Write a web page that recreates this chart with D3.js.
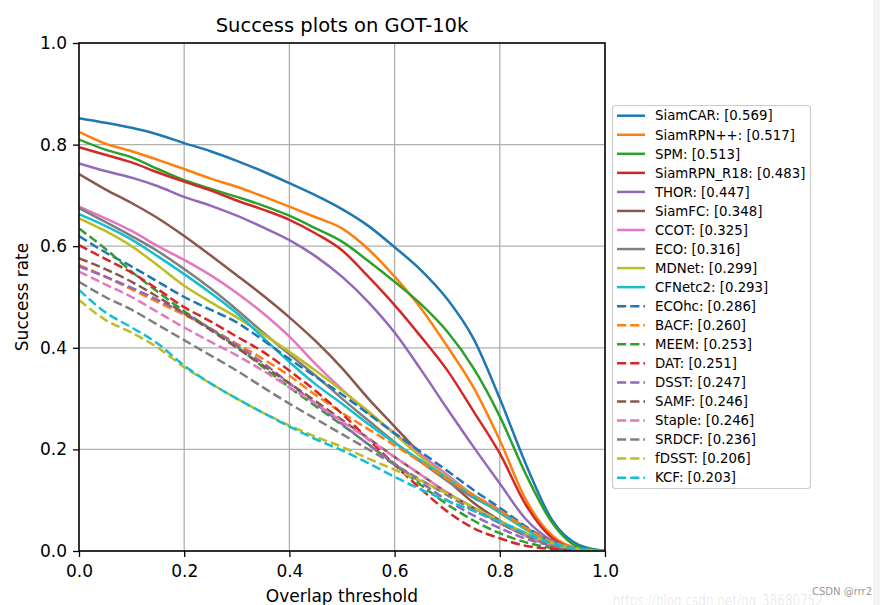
<!DOCTYPE html>
<html>
<head>
<meta charset="utf-8">
<script src="https://cdn.jsdelivr.net/npm/d3@7"></script>
<style>
  html, body { margin: 0; padding: 0; background: #fff; }
  svg { display: block; }
  text { font-family: "DejaVu Sans", sans-serif; }
</style>
</head>
<body>
<svg id="chart" width="880" height="605"></svg>
<script>
// ---- data ----
const thresholds = [0, 0.05, 0.1, 0.15, 0.2, 0.25, 0.3, 0.35, 0.4, 0.45, 0.5,
                    0.55, 0.6, 0.65, 0.7, 0.75, 0.8, 0.85, 0.9, 0.95, 1.0];
const trackerNames = ["SiamCAR", "SiamRPN++", "SPM", "SiamRPN_R18", "THOR", "SiamFC", "CCOT", "ECO", "MDNet", "CFNetc2",
                      "ECOhc", "BACF", "MEEM", "DAT", "DSST", "SAMF", "Staple", "SRDCF", "fDSST", "KCF"];
const aucScores = ["0.569", "0.517", "0.513", "0.483", "0.447", "0.348", "0.325", "0.316", "0.299", "0.293",
                   "0.286", "0.260", "0.253", "0.251", "0.247", "0.246", "0.246", "0.236", "0.206", "0.203"];
const lineStyles = ["solid","solid","solid","solid","solid","solid","solid","solid","solid","solid",
                    "dashed","dashed","dashed","dashed","dashed","dashed","dashed","dashed","dashed","dashed"];
const palette = ["#1f77b4", "#ff7f0e", "#2ca02c", "#d62728", "#9467bd", "#8c564b", "#e377c2", "#7f7f7f", "#bcbd22", "#17becf"];

const siamCAR    = [0.852,0.843,0.833,0.820,0.803,0.787,0.768,0.747,0.724,0.700,0.673,0.640,0.598,0.553,0.496,0.418,0.300,0.170,0.060,0.012,0];
const siamRPNpp  = [0.825,0.802,0.787,0.770,0.752,0.733,0.717,0.698,0.678,0.657,0.635,0.594,0.540,0.478,0.403,0.322,0.218,0.100,0.030,0.005,0];
const spm        = [0.810,0.790,0.775,0.752,0.730,0.713,0.697,0.680,0.660,0.635,0.609,0.571,0.530,0.486,0.432,0.360,0.265,0.150,0.055,0.008,0];
const siamRPNR18 = [0.795,0.780,0.765,0.745,0.727,0.710,0.690,0.672,0.652,0.625,0.592,0.540,0.484,0.422,0.356,0.275,0.192,0.090,0.025,0.003,0];
const thor       = [0.763,0.748,0.735,0.718,0.697,0.680,0.660,0.637,0.612,0.580,0.540,0.490,0.430,0.357,0.280,0.205,0.133,0.062,0.020,0.003,0];
const siamFC     = [0.742,0.712,0.685,0.655,0.620,0.582,0.543,0.503,0.460,0.413,0.360,0.300,0.245,0.190,0.140,0.095,0.060,0.030,0.010,0.002,0];
const ccot       = [0.678,0.655,0.630,0.600,0.573,0.543,0.508,0.468,0.422,0.368,0.318,0.272,0.232,0.190,0.150,0.110,0.080,0.045,0.018,0.004,0];
const eco        = [0.675,0.648,0.620,0.590,0.555,0.517,0.475,0.430,0.387,0.345,0.300,0.257,0.214,0.175,0.138,0.105,0.078,0.045,0.018,0.004,0];
const mdnet      = [0.655,0.630,0.600,0.562,0.522,0.490,0.460,0.427,0.392,0.355,0.316,0.275,0.230,0.185,0.145,0.110,0.075,0.042,0.016,0.003,0];
const cfnetc2    = [0.663,0.640,0.613,0.580,0.545,0.508,0.468,0.420,0.372,0.328,0.290,0.250,0.213,0.178,0.143,0.108,0.076,0.043,0.016,0.003,0];
const ecohc      = [0.620,0.588,0.560,0.530,0.500,0.475,0.450,0.415,0.378,0.343,0.308,0.270,0.232,0.195,0.158,0.120,0.085,0.048,0.018,0.003,0];
const bacf       = [0.563,0.540,0.515,0.490,0.465,0.438,0.408,0.378,0.345,0.307,0.272,0.240,0.208,0.175,0.142,0.110,0.080,0.045,0.018,0.004,0];
const meem       = [0.635,0.595,0.550,0.510,0.472,0.437,0.402,0.362,0.322,0.285,0.248,0.210,0.170,0.130,0.092,0.060,0.035,0.017,0.006,0.001,0];
const dat        = [0.602,0.575,0.548,0.515,0.480,0.452,0.422,0.392,0.355,0.315,0.270,0.220,0.170,0.122,0.078,0.045,0.025,0.010,0.004,0.001,0];
const dsst       = [0.560,0.540,0.518,0.494,0.468,0.438,0.405,0.370,0.330,0.290,0.250,0.210,0.172,0.135,0.100,0.070,0.045,0.024,0.010,0.002,0];
const samf       = [0.576,0.555,0.530,0.500,0.468,0.435,0.400,0.365,0.330,0.295,0.258,0.222,0.185,0.150,0.115,0.085,0.055,0.030,0.012,0.003,0];
const staple     = [0.550,0.525,0.500,0.470,0.440,0.412,0.385,0.355,0.322,0.290,0.255,0.220,0.185,0.150,0.115,0.085,0.055,0.030,0.012,0.003,0];
const srdcf      = [0.530,0.500,0.475,0.445,0.415,0.385,0.355,0.322,0.290,0.260,0.230,0.200,0.170,0.140,0.110,0.080,0.055,0.030,0.012,0.003,0];
const fdsst      = [0.494,0.455,0.430,0.400,0.362,0.330,0.300,0.272,0.247,0.225,0.205,0.182,0.160,0.138,0.113,0.086,0.060,0.035,0.015,0.004,0];
const kcf        = [0.514,0.470,0.440,0.408,0.365,0.330,0.300,0.272,0.245,0.220,0.198,0.173,0.146,0.121,0.099,0.079,0.058,0.035,0.015,0.004,0];

const xTicks = [0.0, 0.2, 0.4, 0.6, 0.8, 1.0];
const yTicks = [0.0, 0.2, 0.4, 0.6, 0.8, 1.0];
const titleText = "Success plots on GOT-10k";
const xLabelText = "Overlap threshold";
const yLabelText = "Success rate";

const seriesValues = [siamCAR, siamRPNpp, spm, siamRPNR18, thor, siamFC, ccot, eco, mdnet, cfnetc2,
                      ecohc, bacf, meem, dat, dsst, samf, staple, srdcf, fdsst, kcf];

// ---- layout ----
const svg = d3.select("#chart");
const plot = { left: 79, right: 605, top: 43, bottom: 551 };
const x = d3.scaleLinear().domain([0, 1]).range([plot.left, plot.right]);
const y = d3.scaleLinear().domain([0, 1]).range([plot.bottom, plot.top]);
const LW = 2.5, DASH = "9.2,4";

svg.append("rect").attr("x", 0).attr("y", 0).attr("width", 880).attr("height", 605).attr("fill", "#fff");
svg.append("rect").attr("x", 873).attr("y", 0).attr("width", 7).attr("height", 605).attr("fill", "#f3f3f3");

// grid
const grid = svg.append("g");
grid.selectAll("line.gx").data(xTicks).join("line")
  .attr("x1", d => x(d)).attr("x2", d => x(d)).attr("y1", plot.top).attr("y2", plot.bottom)
  .attr("stroke", "#b0b0b0").attr("stroke-width", 1.3);
grid.selectAll("line.gy").data(yTicks).join("line")
  .attr("y1", d => y(d)).attr("y2", d => y(d)).attr("x1", plot.left).attr("x2", plot.right)
  .attr("stroke", "#b0b0b0").attr("stroke-width", 1.3);

// clip
svg.append("clipPath").attr("id", "clip").append("rect")
  .attr("x", plot.left).attr("y", plot.top - 2).attr("width", plot.right - plot.left).attr("height", plot.bottom - plot.top + 2);

const line = d3.line()
  .x((d, i) => x(thresholds[i]))
  .y(d => y(d))
  .curve(d3.curveMonotoneX);

const series = trackerNames.map((name, i) => ({
  name, score: aucScores[i], values: seriesValues[i],
  color: palette[i % 10], dashed: lineStyles[i] === "dashed"
}));

const lines = svg.append("g").attr("clip-path", "url(#clip)");
series.forEach(s => {
  lines.append("path")
    .attr("d", line(s.values))
    .attr("fill", "none")
    .attr("stroke", s.color)
    .attr("stroke-width", LW)
    .attr("stroke-linejoin", "round")
    .attr("stroke-dasharray", s.dashed ? DASH : null);
});

// axes
const xAxis = svg.append("g").attr("transform", `translate(0,${plot.bottom})`)
  .call(d3.axisBottom(x).tickValues(xTicks).tickFormat(d3.format(".1f")).tickSize(6).tickPadding(8));
const yAxis = svg.append("g").attr("transform", `translate(${plot.left},0)`)
  .call(d3.axisLeft(y).tickValues(yTicks).tickFormat(d3.format(".1f")).tickSize(6).tickPadding(6));
[xAxis, yAxis].forEach(a => {
  a.select(".domain").remove();
  a.selectAll(".tick line").attr("stroke", "#000").attr("stroke-width", 1.3);
  a.selectAll(".tick text").attr("font-size", 17).attr("fill", "#000").attr("font-family", "DejaVu Sans, sans-serif");
});

// frame
svg.append("rect").attr("x", plot.left).attr("y", plot.top)
  .attr("width", plot.right - plot.left).attr("height", plot.bottom - plot.top)
  .attr("fill", "none").attr("stroke", "#000").attr("stroke-width", 1.5);

// title and labels
svg.append("text").attr("x", (plot.left + plot.right) / 2).attr("y", 32)
  .attr("text-anchor", "middle").attr("font-size", 19.5).attr("fill", "#000").text(titleText);
svg.append("text").attr("x", (plot.left + plot.right) / 2).attr("y", 602)
  .attr("text-anchor", "middle").attr("font-size", 17).attr("fill", "#000").text(xLabelText);
svg.append("text").attr("transform", `translate(28,${(plot.top + plot.bottom) / 2}) rotate(-90)`)
  .attr("text-anchor", "middle").attr("font-size", 17).attr("fill", "#000").text(yLabelText);

// legend
const lg = svg.append("g");
lg.append("rect").attr("x", 612.5).attr("y", 105.5).attr("width", 198).attr("height", 383).attr("rx", 3)
  .attr("fill", "#fff").attr("stroke", "#cccccc").attr("stroke-width", 1.2);
series.forEach((s, i) => {
  const cy = 115.7 + i * 19.05;
  lg.append("line").attr("x1", 617).attr("x2", 645).attr("y1", cy).attr("y2", cy)
    .attr("stroke", s.color).attr("stroke-width", LW)
    .attr("stroke-dasharray", s.dashed ? DASH : null);
  lg.append("text").attr("x", 655).attr("y", cy).attr("dy", "0.36em")
    .attr("font-size", 13.3).attr("fill", "#000").text(`${s.name}: [${s.score}]`);
});

// watermarks
svg.append("text").attr("x", 613).attr("y", 606).attr("font-family", "Liberation Sans, Arial, sans-serif")
  .attr("font-size", 15.5).attr("textLength", 210).attr("lengthAdjust", "spacingAndGlyphs")
  .attr("fill", "#000").attr("fill-opacity", 0.1).text("https://blog.csdn.net/qq_38680752");
svg.append("text").attr("x", 812).attr("y", 595).attr("font-family", "Liberation Sans, Arial, sans-serif")
  .attr("font-size", 10).attr("fill", "#999").text("CSDN @rrr2");
</script>
</body>
</html>
